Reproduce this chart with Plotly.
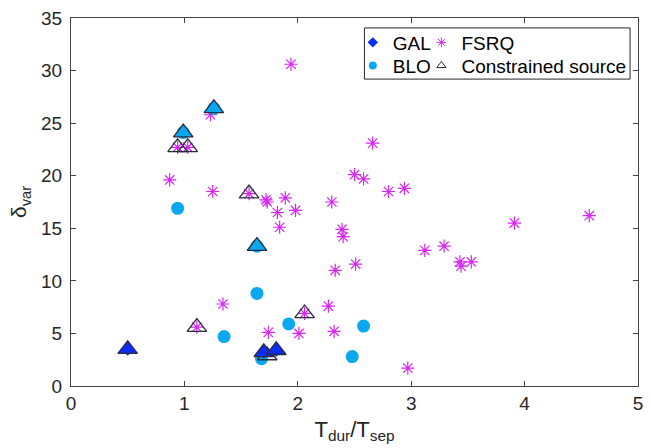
import plotly.graph_objects as go

# ---- data ----
gal_x = [0.50, 1.70, 1.81]
gal_y = [3.5, 3.2, 3.4]

blo_x = [0.94, 1.64, 1.35, 1.92, 1.68, 2.48, 2.58, 1.26, 0.99, 1.64]
blo_y = [16.9, 8.8, 4.7, 5.9, 2.6, 2.8, 5.7, 26.4, 24.1, 13.3]

fsrq_x = [1.94, 1.23, 0.87, 1.25, 1.72, 1.73, 1.89, 1.82, 1.98, 1.84, 2.30, 2.39, 2.40,
          2.51, 2.33, 1.34, 2.27, 1.74, 2.01, 2.32, 2.66, 2.50, 2.58, 2.80, 2.94, 3.12,
          3.29, 3.43, 3.44, 3.53, 3.91, 4.57, 2.97, 0.94, 1.03, 1.57, 2.06, 1.11]
fsrq_y = [30.6, 25.8, 19.6, 18.5, 17.7, 17.5, 17.9, 16.5, 16.7, 15.1, 17.5, 14.9, 14.2,
          11.6, 11.0, 7.8, 7.6, 5.1, 5.0, 5.2, 23.1, 20.1, 19.7, 18.5, 18.8, 12.9,
          13.3, 11.8, 11.4, 11.8, 15.5, 16.2, 1.7, 22.7, 22.7, 18.3, 6.9, 5.6]

# constrained sources and their class
con_x = [0.50, 1.73, 1.70, 1.81, 1.26, 0.99, 1.64, 0.94, 1.03, 1.57, 2.06, 1.11]
con_y = [3.5, 2.9, 3.2, 3.4, 26.4, 24.1, 13.3, 22.7, 22.7, 18.3, 6.9, 5.6]
con_cls = ["GAL", "FSRQ", "GAL", "GAL", "BLO", "BLO", "BLO", "FSRQ", "FSRQ", "FSRQ", "FSRQ", "FSRQ"]

x_ticks = [0, 1, 2, 3, 4, 5]
y_ticks = [0, 5, 10, 15, 20, 25, 30, 35]

GAL_C = "#0b2cf5"
BLO_C = "#0aa8f0"
FSRQ_C = "#d726f5"
TRI_C = "#2b2b3f"
fill_of = {"GAL": GAL_C, "BLO": BLO_C, "FSRQ": "rgba(0,0,0,0)"}

FONT = "Liberation Sans, Arial, Helvetica, sans-serif"

fig = go.Figure()

fig.add_trace(go.Scatter(x=fsrq_x, y=fsrq_y, mode="markers", showlegend=False,
                         marker=dict(symbol="asterisk-open", size=11, color=FSRQ_C,
                                     line=dict(color=FSRQ_C, width=1.2))))
fig.add_trace(go.Scatter(x=blo_x, y=blo_y, mode="markers", showlegend=False,
                         marker=dict(symbol="circle", size=13, color=BLO_C,
                                     line=dict(width=0))))
fig.add_trace(go.Scatter(x=gal_x, y=gal_y, mode="markers", showlegend=False,
                         marker=dict(symbol="diamond", size=10, color=GAL_C,
                                     line=dict(width=0))))
fig.add_trace(go.Scatter(x=con_x, y=con_y, mode="markers", showlegend=False,
                         marker=dict(symbol="triangle-up", size=17,
                                     color=[fill_of[c] for c in con_cls],
                                     line=dict(color=TRI_C, width=1.3))))

# legend entries (one legend per entry so the 2x2 grid matches the reference)
fig.add_trace(go.Scatter(x=[None], y=[None], mode="markers", name="GAL", legend="legend",
                         marker=dict(symbol="diamond", size=8, color=GAL_C)))
fig.add_trace(go.Scatter(x=[None], y=[None], mode="markers", name="BLO", legend="legend2",
                         marker=dict(symbol="circle", size=8, color=BLO_C)))
fig.add_trace(go.Scatter(x=[None], y=[None], mode="markers", name="FSRQ", legend="legend3",
                         marker=dict(symbol="asterisk-open", size=8, color=FSRQ_C,
                                     line=dict(color=FSRQ_C, width=1))))
fig.add_trace(go.Scatter(x=[None], y=[None], mode="markers", name="Constrained source",
                         legend="legend4",
                         marker=dict(symbol="triangle-up-open", size=8, color=TRI_C,
                                     line=dict(color=TRI_C, width=1))))

axis_common = dict(showgrid=False, zeroline=False, showline=True, linecolor="#444444",
                   linewidth=1, mirror="ticks", ticks="inside", ticklen=5,
                   tickcolor="#444444", tickfont=dict(size=19, color="#262626", family=FONT))

fig.update_xaxes(range=[0, 5], tickvals=x_ticks, **axis_common,
                 title=dict(text="T<sub>dur</sub>/T<sub>sep</sub>",
                            font=dict(size=22, color="#262626", family=FONT), standoff=8))
fig.update_yaxes(range=[0, 35], tickvals=y_ticks, ticklabelstandoff=4, **axis_common,
                 title=dict(text="δ<sub>var</sub>",
                            font=dict(size=21, color="#262626", family=FONT), standoff=8))

leg_common = dict(bgcolor="rgba(0,0,0,0)", borderwidth=0, xanchor="left", yanchor="top",
                  font=dict(size=19, color="#000000", family=FONT))

fig.update_layout(
    width=651, height=448,
    margin=dict(l=71, r=8, t=18, b=62),
    paper_bgcolor="white", plot_bgcolor="white",
    font=dict(family=FONT),
    legend=dict(x=0.497, y=0.985, **leg_common),
    legend2=dict(x=0.497, y=0.922, **leg_common),
    legend3=dict(x=0.618, y=0.985, **leg_common),
    legend4=dict(x=0.618, y=0.922, **leg_common),
    shapes=[dict(type="rect", xref="paper", yref="paper",
                 x0=0.5175, x1=0.986, y0=0.834, y1=0.973,
                 line=dict(color="#262626", width=1), fillcolor="rgba(0,0,0,0)")],
)

fig.write_html("out.html", config={"displayModeBar": False},
               post_script="document.body.style.margin='0';document.body.style.padding='0';")
